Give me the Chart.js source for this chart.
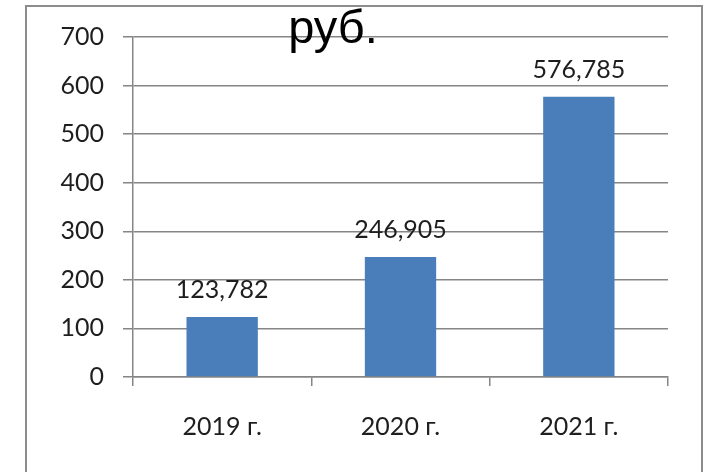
<!DOCTYPE html>
<html>
<head>
<meta charset="utf-8">
<script src="https://cdn.jsdelivr.net/npm/chart.js@4.4.1/dist/chart.umd.min.js"></script>
<style>
  html, body { margin: 0; padding: 0; background: #ffffff; }
  #wrap { width: 707px; height: 472px; position: relative; }
</style>
</head>
<body>
<div id="wrap"><canvas id="chart" width="707" height="472"></canvas></div>
<script>
// Годы и суммы, руб.
const categories = ['2019 г.', '2020 г.', '2021 г.'];
const amounts = [123.782, 246.905, 576.785];
const yTicks = [0, 100, 200, 300, 400, 500, 600, 700];
const titleText = 'руб.';

const LABEL_FONT = { family: 'Lato, "Open Sans", sans-serif', size: 25 };
const AXIS_GREY = '#858585';
const BAR_BLUE = '#4a7ebb';

function formatValue(v) {
  return v.toFixed(3).replace('.', ',');
}

// Серая рамка вокруг всей диаграммы
const framePlugin = {
  id: 'frame',
  beforeDraw(chart) {
    const ctx = chart.ctx;
    ctx.save();
    ctx.fillStyle = '#ffffff';
    ctx.fillRect(0, 0, chart.width, chart.height);
    ctx.strokeStyle = '#8c8c8c';
    ctx.lineWidth = 2;
    ctx.strokeRect(26, 6, chart.width - 31, chart.height + 10);
    ctx.restore();
  }
};

// Подписи значений над столбцами и заголовок поверх сетки
const labelsPlugin = {
  id: 'valueLabels',
  afterDraw(chart) {
    const ctx = chart.ctx;
    ctx.save();
    const meta = chart.getDatasetMeta(0);
    ctx.font = `${LABEL_FONT.size}px ${LABEL_FONT.family}`;
    ctx.fillStyle = '#1e1e1e';
    ctx.textAlign = 'center';
    ctx.textBaseline = 'alphabetic';
    meta.data.forEach((bar, i) => {
      ctx.fillText(formatValue(amounts[i]), bar.x, bar.y - 19);
    });
    ctx.font = '47px "Liberation Sans", Arial, sans-serif';
    ctx.fillStyle = '#000000';
    ctx.fillText(titleText, 333, 43);
    ctx.restore();
  }
};

new Chart(document.getElementById('chart'), {
  type: 'bar',
  data: {
    labels: categories,
    datasets: [{
      data: amounts,
      backgroundColor: BAR_BLUE,
      borderWidth: 0,
      barPercentage: 0.4,
      categoryPercentage: 1.0
    }]
  },
  options: {
    responsive: false,
    animation: false,
    devicePixelRatio: 1,
    layout: { padding: { left: 58, right: 39, top: 37, bottom: 0 } },
    plugins: {
      legend: { display: false },
      title: { display: false },
      tooltip: { enabled: false }
    },
    scales: {
      x: {
        grid: {
          display: true,
          drawOnChartArea: false,
          drawTicks: true,
          tickLength: 9,
          color: AXIS_GREY,
          lineWidth: 1.5,
          offset: true
        },
        border: { display: true, color: AXIS_GREY, width: 1.5 },
        ticks: {
          font: LABEL_FONT,
          color: '#1e1e1e',
          padding: 26,
          maxRotation: 0
        },
        afterFit(scale) { scale.height = 95; }
      },
      y: {
        min: 0,
        max: 700,
        afterBuildTicks(scale) {
          scale.ticks = yTicks.map(v => ({ value: v }));
        },
        grid: {
          color: AXIS_GREY,
          lineWidth: 1.5,
          drawTicks: true,
          tickLength: 10
        },
        border: { display: true, color: AXIS_GREY, width: 1.5 },
        ticks: {
          font: LABEL_FONT,
          color: '#1e1e1e',
          padding: 19
        },
        afterFit(scale) { scale.width = 75; }
      }
    }
  },
  plugins: [framePlugin, labelsPlugin]
});
</script>
</body>
</html>
